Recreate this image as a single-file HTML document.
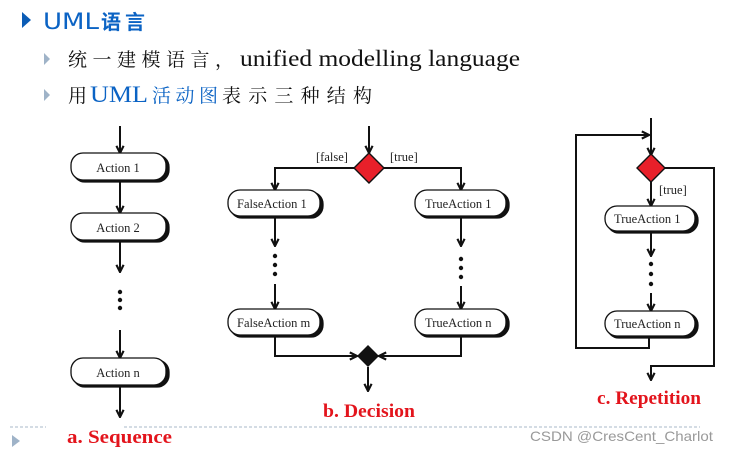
<!DOCTYPE html>
<html><head><meta charset="utf-8"><style>
html,body{margin:0;padding:0;background:#fff;}
svg{display:block}
.t{font-family:"Liberation Serif","Noto Serif CJK SC",serif;font-size:12.5px;fill:#222}
</style></head><body>
<svg width="729" height="452" viewBox="0 0 729 452" xmlns="http://www.w3.org/2000/svg">
<defs>
<marker id="a" viewBox="0 0 10 10" refX="9" refY="5" markerWidth="9" markerHeight="9" orient="auto" markerUnits="userSpaceOnUse">
<path d="M1,1 L9,5 L1,9" fill="none" stroke="#111" stroke-width="2.4"/>
</marker>
</defs>
<!-- header -->
<polygon points="22,12 31,20 22,28" fill="#0b5cb5"/>
<text x="43" y="29" font-family="'DejaVu Sans','Noto Sans CJK SC',sans-serif" font-size="22" fill="#0b63c4" textLength="56" lengthAdjust="spacingAndGlyphs">UML</text>
<text x="101" y="29" font-family="'Noto Sans CJK SC',sans-serif" font-size="20" font-weight="bold" fill="#0b63c4" letter-spacing="4">语言</text>
<polygon points="44,53 50,59 44,65" fill="#9fb3c8"/>
<text x="68" y="66" font-family="'Noto Serif CJK SC',serif" font-size="19" fill="#111" textLength="166" lengthAdjust="spacing">统一建模语言，</text>
<text x="240" y="66" font-family="'Liberation Serif',serif" font-size="23" fill="#111" textLength="280" lengthAdjust="spacingAndGlyphs">unified modelling language</text>
<polygon points="44,89 50,95 44,101" fill="#9fb3c8"/>
<text x="68" y="102" font-family="'Noto Serif CJK SC',serif" font-size="19" fill="#111">用</text>
<text x="90" y="102" font-family="'Liberation Serif',serif" font-size="23" fill="#0b63c4" textLength="58" lengthAdjust="spacingAndGlyphs">UML</text>
<text x="152" y="102" font-family="'Noto Serif CJK SC',serif" font-size="19" fill="#0b63c4" textLength="66" lengthAdjust="spacing">活动图</text>
<text x="222" y="102" font-family="'Noto Serif CJK SC',serif" font-size="19" fill="#111" textLength="150" lengthAdjust="spacing">表示三种结构</text>

<g stroke="#111" stroke-width="2" fill="none">
<!-- sequence -->
<line x1="120" y1="126" x2="120" y2="153" marker-end="url(#a)"/>
<line x1="120" y1="182" x2="120" y2="213" marker-end="url(#a)"/>
<line x1="120" y1="242" x2="120" y2="272" marker-end="url(#a)"/>
<line x1="120" y1="330" x2="120" y2="358" marker-end="url(#a)"/>
<line x1="120" y1="387" x2="120" y2="417" marker-end="url(#a)"/>
<!-- decision -->
<line x1="369" y1="126" x2="369" y2="153" marker-end="url(#a)"/>
<polyline points="354,168 275,168 275,190" marker-end="url(#a)"/>
<polyline points="384,168 461,168 461,190" marker-end="url(#a)"/>
<line x1="275" y1="218" x2="275" y2="246" marker-end="url(#a)"/>
<line x1="461" y1="218" x2="461" y2="246" marker-end="url(#a)"/>
<line x1="275" y1="284" x2="275" y2="309" marker-end="url(#a)"/>
<line x1="461" y1="286" x2="461" y2="309" marker-end="url(#a)"/>
<polyline points="275,337 275,356 357,356" marker-end="url(#a)"/>
<polyline points="461,337 461,356 379,356" marker-end="url(#a)"/>
<line x1="368" y1="367" x2="368" y2="391" marker-end="url(#a)"/>
<!-- repetition -->
<line x1="651" y1="118" x2="651" y2="155" marker-end="url(#a)"/>
<polyline points="649,338 649,348 576,348 576,135 649,135" marker-end="url(#a)"/>
<line x1="651" y1="182" x2="651" y2="206" marker-end="url(#a)"/>
<line x1="651" y1="233" x2="651" y2="256" marker-end="url(#a)"/>
<line x1="651" y1="293" x2="651" y2="311" marker-end="url(#a)"/>
<polyline points="665,168 714,168 714,366 651,366 651,380" marker-end="url(#a)"/>
</g>
<!-- dots -->
<g fill="#111">
<circle cx="120" cy="292" r="2.2"/><circle cx="120" cy="300" r="2.2"/><circle cx="120" cy="308" r="2.2"/>
<circle cx="275" cy="256" r="2.2"/><circle cx="275" cy="265" r="2.2"/><circle cx="275" cy="274" r="2.2"/>
<circle cx="461" cy="259" r="2.2"/><circle cx="461" cy="268" r="2.2"/><circle cx="461" cy="277" r="2.2"/>
<circle cx="651" cy="264" r="2.2"/><circle cx="651" cy="274" r="2.2"/><circle cx="651" cy="284" r="2.2"/>
</g>
<!-- diamonds -->
<polygon points="369,153 384,168 369,183 354,168" fill="#e8202a" stroke="#111" stroke-width="1.4"/>
<polygon points="651,154 665,168 651,182 637,168" fill="#e8202a" stroke="#111" stroke-width="1.4"/>
<polygon points="368,345 379,356 368,367 357,356" fill="#111"/>
<!-- boxes -->
<g stroke="#111" stroke-width="1.3">
<rect x="73" y="155" width="96" height="27" rx="12" fill="#111"/><rect x="71" y="153" width="95" height="27" rx="12" fill="#fff"/>
<rect x="73" y="215" width="96" height="27" rx="12" fill="#111"/><rect x="71" y="213" width="95" height="27" rx="12" fill="#fff"/>
<rect x="73" y="360" width="96" height="27" rx="12" fill="#111"/><rect x="71" y="358" width="95" height="27" rx="12" fill="#fff"/>
<rect x="230" y="192" width="93" height="26" rx="12" fill="#111"/><rect x="228" y="190" width="92" height="26" rx="12" fill="#fff"/>
<rect x="417" y="192" width="92" height="26" rx="12" fill="#111"/><rect x="415" y="190" width="91" height="26" rx="12" fill="#fff"/>
<rect x="230" y="311" width="93" height="26" rx="12" fill="#111"/><rect x="228" y="309" width="92" height="26" rx="12" fill="#fff"/>
<rect x="417" y="311" width="92" height="26" rx="12" fill="#111"/><rect x="415" y="309" width="91" height="26" rx="12" fill="#fff"/>
<rect x="607" y="208" width="91" height="25" rx="12" fill="#111"/><rect x="605" y="206" width="90" height="25" rx="12" fill="#fff"/>
<rect x="607" y="313" width="91" height="25" rx="12" fill="#111"/><rect x="605" y="311" width="90" height="25" rx="12" fill="#fff"/>
</g>
<text class="t" x="118" y="172" text-anchor="middle">Action 1</text>
<text class="t" x="118" y="232" text-anchor="middle">Action 2</text>
<text class="t" x="118" y="377" text-anchor="middle">Action n</text>
<text class="t" x="237" y="208">FalseAction 1</text>
<text class="t" x="425" y="208">TrueAction 1</text>
<text class="t" x="237" y="327">FalseAction m</text>
<text class="t" x="425" y="327">TrueAction n</text>
<text class="t" x="614" y="223">TrueAction 1</text>
<text class="t" x="614" y="328">TrueAction n</text>
<text class="t" x="316" y="161">[false]</text>
<text class="t" x="390" y="161">[true]</text>
<text class="t" x="659" y="194">[true]</text>
<!-- captions -->
<g font-family="'Liberation Serif',serif" font-weight="bold" font-size="19" fill="#e3141c">
<text x="67" y="443" textLength="105" lengthAdjust="spacingAndGlyphs">a. Sequence</text>
<text x="323" y="417" textLength="92" lengthAdjust="spacingAndGlyphs">b. Decision</text>
<text x="597" y="404" textLength="104" lengthAdjust="spacingAndGlyphs">c. Repetition</text>
</g>
<!-- footer -->
<line x1="10" y1="427" x2="46" y2="427" stroke="#a9b8c8" stroke-dasharray="3,2"/>
<line x1="124" y1="427" x2="700" y2="427" stroke="#a9b8c8" stroke-dasharray="3,2"/>
<polygon points="12,435 20,441 12,447" fill="#9fb3c8"/>
<text x="530" y="441" font-family="'Liberation Sans',sans-serif" font-size="14" fill="#999" textLength="183" lengthAdjust="spacingAndGlyphs">CSDN @CresCent_Charlot</text>
</svg>
</body></html>
